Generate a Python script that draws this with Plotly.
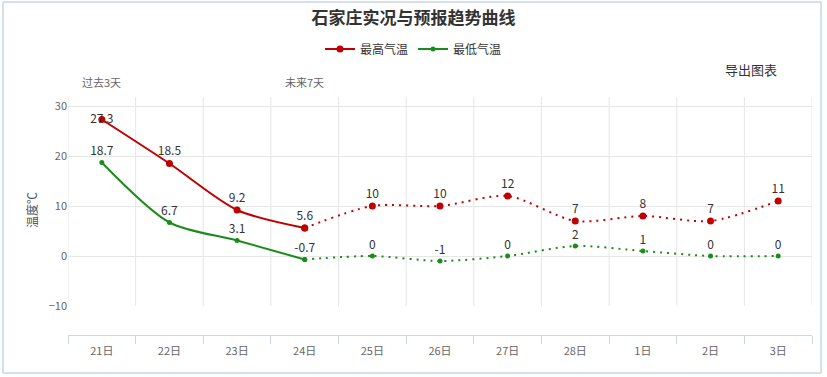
import plotly.graph_objects as go

days = ["21日", "22日", "23日", "24日", "25日", "26日", "27日", "28日", "1日", "2日", "3日"]
max_temp = [27.3, 18.5, 9.2, 5.6, 10, 10, 12, 7, 8, 7, 11]
min_temp = [18.7, 6.7, 3.1, -0.7, 0, -1, 0, 2, 1, 0, 0]
split_idx = 3  # last observed day (24日); after it the forecast begins

RED = "#c00000"
GREEN = "#1a8c1a"
FONT = "Noto Sans CJK SC, Microsoft YaHei, sans-serif"

def fmt(v):
    return ("%g" % v)

fig = go.Figure()

def add_series(name, vals, color, msize):
    xs_obs = days[: split_idx + 1]
    ys_obs = vals[: split_idx + 1]
    xs_fc = days[split_idx:]
    ys_fc = vals[split_idx:]
    fig.add_trace(go.Scatter(
        x=xs_obs, y=ys_obs, name=name, legendgroup=name,
        mode="lines+markers+text",
        line=dict(color=color, width=2, shape="spline", smoothing=0.8),
        marker=dict(color=color, size=msize, symbol="circle"),
        text=[fmt(v) for v in ys_obs],
        textposition=["middle center" if (name == "最高气温" and i == 0) else "top center" for i in range(len(ys_obs))],
        textfont=dict(size=12, color="#333333", family=FONT),
        cliponaxis=False,
    ))
    fig.add_trace(go.Scatter(
        x=xs_fc, y=ys_fc, name=name, legendgroup=name, showlegend=False,
        mode="lines+markers+text",
        line=dict(color=color, width=2, shape="spline", smoothing=0.8, dash="2px,5px"),
        marker=dict(color=color, size=msize, symbol="circle"),
        text=[""] + [fmt(v) for v in ys_fc[1:]],
        textposition="top center",
        textfont=dict(size=12, color="#333333", family=FONT),
        cliponaxis=False,
    ))

add_series("最高气温", max_temp, RED, 7)
add_series("最低气温", min_temp, GREEN, 5)

# plot geometry (pixels)
W, H = 827, 377
L, R, T, B = 68, 15, 97, 42
ph = H - T - B  # plot height
grid_bottom_px = 306
axis_px = H - B
dom0 = (axis_px - grid_bottom_px) / ph

shapes = []
for i in range(len(days) + 1):
    shapes.append(dict(type="line", xref="x", yref="y domain", x0=i - 0.5, x1=i - 0.5,
                       y0=0, y1=1, line=dict(color="#e6e6e6", width=1), layer="below"))
# outer border
pw = W - L - R
shapes.append(dict(type="rect", xref="paper", yref="paper",
                   x0=(3 - L) / pw, x1=(821 - L) / pw,
                   y0=(axis_px - 373) / ph, y1=(axis_px - 2) / ph,
                   line=dict(color="#a9c2e0", width=1), fillcolor="rgba(0,0,0,0)"))

def py(px):
    return (axis_px - px) / ph

annotations = [
    dict(text="过去3天", xref="x", x=0, yref="paper", y=py(82), showarrow=False,
         xanchor="center", yanchor="middle",
         font=dict(size=11, color="#666666", family=FONT)),
    dict(text="未来7天", xref="x", x=3, yref="paper", y=py(82), showarrow=False,
         xanchor="center", yanchor="middle",
         font=dict(size=11, color="#666666", family=FONT)),
    dict(text="导出图表", xref="paper", x=(751 - L) / pw, yref="paper", y=py(70),
         xanchor="center", yanchor="middle",
         showarrow=False, font=dict(size=13, color="#333333", family=FONT)),
    dict(text="温度℃", xref="paper", x=(31 - L) / pw, yref="paper", y=py(210),
         xanchor="center", yanchor="middle",
         showarrow=False, textangle=-90, font=dict(size=12, color="#555555", family=FONT)),
]

fig.update_layout(
    width=W, height=H,
    margin=dict(l=L, r=R, t=T, b=B),
    paper_bgcolor="white", plot_bgcolor="white",
    font=dict(family=FONT, color="#333333"),
    title=dict(text="<b>石家庄实况与预报趋势曲线</b>", x=0.5, xanchor="center",
               y=1 - 18 / H, yanchor="middle", font=dict(size=17, color="#333333", family=FONT)),
    legend=dict(orientation="h", x=0.5, xanchor="center", xref="container",
                y=1 - 49 / H, yref="container", yanchor="middle",
                font=dict(size=12, color="#333333", family=FONT), itemwidth=30),
    xaxis=dict(type="category", categoryorder="array", categoryarray=days,
               range=[-0.5, len(days) - 0.5], anchor="free", position=0,
               showgrid=False, showline=True, linecolor="#ccd6eb", linewidth=1,
               ticks="outside", tickson="boundaries", ticklen=8, tickcolor="#ccd6eb",
               ticklabelstandoff=6,
               tickfont=dict(size=11, color="#666666", family=FONT), zeroline=False,
               fixedrange=True),
    yaxis=dict(domain=[dom0, 1], range=[-10, 31.8], tickvals=[-10, 0, 10, 20, 30],
               showgrid=True, gridcolor="#e6e6e6", gridwidth=1, zeroline=False,
               showline=False, tickfont=dict(size=11, color="#666666", family=FONT),
               ticks="", fixedrange=True),
    shapes=shapes,
    annotations=annotations,
)

fig.write_html("out.html", config={"displayModeBar": False},
               post_script="document.body.style.margin='0';")
